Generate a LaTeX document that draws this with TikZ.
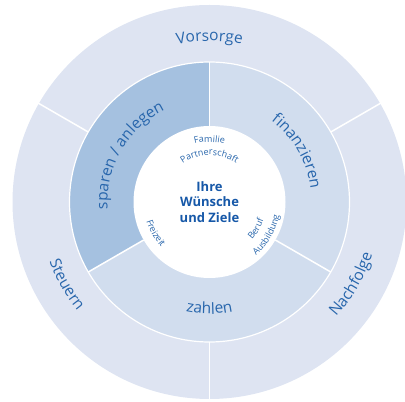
\documentclass[tikz,border=0pt]{standalone}
\usepackage{fontspec}
\setmainfont{Open Sans}
\usetikzlibrary{decorations.text}

\definecolor{outerring}{RGB}{222,228,242}
\definecolor{midring}{RGB}{209,221,238}
\definecolor{darkring}{RGB}{165,193,224}
\definecolor{labelblue}{RGB}{40,102,172}
\definecolor{titleblue}{RGB}{22,88,168}

\newcommand{\outerringfont}{\fontsize{15.5}{18}\selectfont}
\newcommand{\midringfont}{\fontsize{15.5}{18}\selectfont}
\newcommand{\innerringfont}{\fontsize{9}{11}\selectfont}

\begin{document}
\begin{tikzpicture}[x=1pt, y=1pt,
    divider/.style={white, line width=1.5pt},
    curvedtext/.style={decorate, decoration={text along path, text align=center,
        text color=labelblue, text={#1}}}]

    \useasboundingbox (0,0) rectangle (405,402);
    \coordinate (c) at (209.5,200);

    % Fill the three rings
    \fill[outerring] (c) circle[radius=197];
    \fill[midring] (c) circle[radius=140];
    \fill[darkring] (c) -- ++(90:140) arc[start angle=90, end angle=210, radius=140] -- cycle;
    \draw[white, line width=1.2pt] (c) circle[radius=140];
    \fill[white] (c) circle[radius=76];

    % Draw the white dividers
    \foreach \a in {90,210,330}
        \draw[divider] (c) ++(\a:76) -- ++(\a:64);
    \foreach \a in {30,150,270}
        \draw[divider] (c) ++(\a:140) -- ++(\a:62);

    % Outer ring labels
    \path[curvedtext={|\outerringfont|Vorsorge}] (c) ++(150:161) arc[start angle=150, end angle=30, radius=161];
    \path[curvedtext={|\outerringfont|Steuern}] (c) ++(180:171) arc[start angle=180, end angle=240, radius=171];
    \path[curvedtext={|\outerringfont|Nachfolge}] (c) ++(300:171) arc[start angle=300, end angle=360, radius=171];

    % Middle ring labels
    \path[curvedtext={|\midringfont|sparen / anlegen}] (c) ++(210:102) arc[start angle=210, end angle=90, radius=102];
    \path[curvedtext={|\midringfont|finanzieren}] (c) ++(90:102) arc[start angle=90, end angle=-30, radius=102];
    \path[curvedtext={|\midringfont|zahlen}] (c) ++(240:112) arc[start angle=240, end angle=300, radius=112];

    % Inner labels
    \path[curvedtext={|\innerringfont|Familie}] (c) ++(150:60) arc[start angle=150, end angle=30, radius=60];
    \path[curvedtext={|\innerringfont|Partnerschaft}] (c) ++(150:47) arc[start angle=150, end angle=30, radius=47];
    \path[curvedtext={|\innerringfont|Freizeit}] (c) ++(170:66) arc[start angle=170, end angle=250, radius=66];
    \path[curvedtext={|\innerringfont|Beruf}] (c) ++(290:57) arc[start angle=290, end angle=370, radius=57];
    \path[curvedtext={|\innerringfont|Ausbildung}] (c) ++(290:71) arc[start angle=290, end angle=370, radius=71];

    % Centre text
    \node[align=center, text=titleblue, font=\bfseries\fontsize{13}{15.7}\selectfont] (goals) at (c) {Ihre\\Wünsche\\und Ziele};

\end{tikzpicture}
\end{document}
